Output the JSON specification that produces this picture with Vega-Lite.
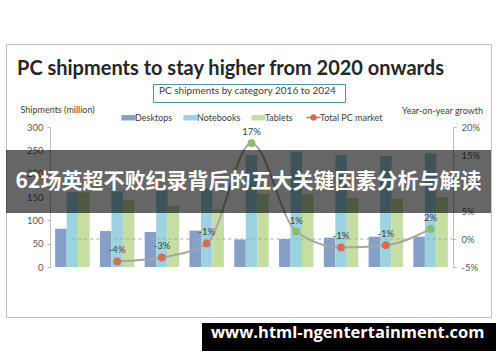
{
  "$schema": "https://vega.github.io/schema/vega-lite/v6.json",
  "width": 485,
  "height": 273,
  "autosize": {"type": "none"},
  "padding": {"left": 6, "top": 44, "right": 9, "bottom": 45},
  "background": "white",
  "config": {
    "view": {"stroke": "#bfbfbf", "strokeWidth": 1},
    "font": "Lato",
    "axis": {"labelFont": "Lato", "titleFont": "Lato", "labelColor": "#595959", "titleColor": "#404040", "grid": false, "domainColor": "#bfbfbf", "tickColor": "#bfbfbf", "labelFontSize": 9.5, "titleFontSize": 9, "titleFontWeight": "normal"},
    "legend": {"labelFont": "Lato", "titleFont": "Lato"}
  },
  "title": {
    "text": "PC shipments to stay higher from 2020 onwards",
    "anchor": "start",
    "frame": "group",
    "dx": 11,
    "offset": -35,
    "font": "Lato",
    "fontSize": 20,
    "fontWeight": "bold",
    "color": "#262626"
  },
  "datasets": {
    "shipments": [
      {"year": "2016", "category": "Desktops", "value": 82},
      {"year": "2016", "category": "Notebooks", "value": 160},
      {"year": "2016", "category": "Tablets", "value": 160},
      {"year": "2017", "category": "Desktops", "value": 77},
      {"year": "2017", "category": "Notebooks", "value": 162},
      {"year": "2017", "category": "Tablets", "value": 143},
      {"year": "2018", "category": "Desktops", "value": 75},
      {"year": "2018", "category": "Notebooks", "value": 164},
      {"year": "2018", "category": "Tablets", "value": 131},
      {"year": "2019", "category": "Desktops", "value": 78},
      {"year": "2019", "category": "Notebooks", "value": 168},
      {"year": "2019", "category": "Tablets", "value": 124},
      {"year": "2020", "category": "Desktops", "value": 59},
      {"year": "2020", "category": "Notebooks", "value": 240},
      {"year": "2020", "category": "Tablets", "value": 157},
      {"year": "2021", "category": "Desktops", "value": 60},
      {"year": "2021", "category": "Notebooks", "value": 247},
      {"year": "2021", "category": "Tablets", "value": 156},
      {"year": "2022", "category": "Desktops", "value": 63},
      {"year": "2022", "category": "Notebooks", "value": 240},
      {"year": "2022", "category": "Tablets", "value": 148},
      {"year": "2023", "category": "Desktops", "value": 65},
      {"year": "2023", "category": "Notebooks", "value": 238},
      {"year": "2023", "category": "Tablets", "value": 146},
      {"year": "2024", "category": "Desktops", "value": 65},
      {"year": "2024", "category": "Notebooks", "value": 244},
      {"year": "2024", "category": "Tablets", "value": 150}
    ],
    "growth": [
      {"year": "2017", "growth": -4.0, "label": "-4%", "trend": "neg"},
      {"year": "2018", "growth": -3.3, "label": "-3%", "trend": "neg"},
      {"year": "2019", "growth": -0.8, "label": "-1%", "trend": "neg"},
      {"year": "2020", "growth": 17.1, "label": "17%", "trend": "pos"},
      {"year": "2021", "growth": 1.3, "label": "1%", "trend": "pos"},
      {"year": "2022", "growth": -1.5, "label": "-1%", "trend": "neg"},
      {"year": "2023", "growth": -1.1, "label": "-1%", "trend": "neg"},
      {"year": "2024", "growth": 1.8, "label": "2%", "trend": "pos"}
    ],
    "overlay": [
      {"banner": "62场英超不败纪录背后的五大关键因素分析与解读"}
    ]
  },
  "layer": [
    {
      "data": {"name": "shipments"},
      "mark": {"type": "bar"},
      "encoding": {
        "x": {
          "field": "year", "type": "ordinal",
          "scale": {"range": [44, 447], "paddingInner": 0.23, "paddingOuter": 0.115},
          "axis": {
            "orient": "bottom", "offset": -50, "labelAngle": 0, "ticks": false, "labelPadding": 8,
            "title": "Source: Canalys estimates and forecasts, PC Analysis, November 2020",
            "titleX": 13, "titleY": 35, "titleAlign": "left", "titleAnchor": null, "titleBaseline": "middle",
            "titleFontSize": 7, "titleColor": "#a6a6a6"
          }
        },
        "xOffset": {"field": "category", "type": "nominal", "scale": {"paddingInner": 0, "paddingOuter": 0}},
        "y": {
          "field": "value", "type": "quantitative",
          "scale": {"domain": [0, 300], "range": [223, 83], "nice": false},
          "axis": {
            "orient": "left", "offset": -44, "values": [0, 50, 100, 150, 200, 250, 300], "tickSize": 3, "labelPadding": 4,
            "title": "Shipments (million)", "titleAngle": 0, "titleX": -30, "titleY": 65, "titleAlign": "left", "titleBaseline": "middle"
          }
        },
        "color": {
          "field": "category", "type": "nominal",
          "scale": {"domain": ["Desktops", "Notebooks", "Tablets", "Total PC market"], "range": ["#859fc7", "#9dd2e0", "#c6dea2", "#d0694f"]},
          "legend": {
            "orient": "none", "legendX": 118, "legendY": 69, "direction": "horizontal", "title": null,
            "symbolType": "M-1,-0.38H1V0.38H-1Z", "symbolSize": 200, "symbolStrokeWidth": 0,
            "labelFontSize": 9, "labelColor": "#404040", "columnPadding": 10, "labelOffset": 2,
            "encode": {
              "symbols": {
                "update": {
                  "shape": {"signal": "datum.value === 'Total PC market' ? 'M-1,0H1M-0.35,0A0.35,0.35,0,1,0,0.35,0A0.35,0.35,0,1,0,-0.35,0Z' : 'M-1,-0.38H1V0.38H-1Z'"},
                  "stroke": {"signal": "datum.value === 'Total PC market' ? '#d0694f' : null"},
                  "strokeWidth": {"signal": "datum.value === 'Total PC market' ? 1.5 : 0"}
                }
              }
            }
          }
        }
      }
    },
    {
      "layer": [
        {
          "data": {"name": "overlay"},
          "mark": {"type": "rule", "color": "#a6a6a6", "strokeWidth": 1},
          "encoding": {
            "x": {"datum": "2016", "type": "ordinal", "axis": null},
            "x2": {"datum": "2024", "bandPosition": 1.2},
            "y": {"datum": 0, "type": "quantitative"},
            "strokeDash": {
              "datum": "box", "type": "nominal",
              "scale": {"range": [[3, 3]]},
              "legend": {
                "orient": "none", "legendX": 147, "legendY": 40,
                "title": "PC shipments by category 2016 to 2024", "titleOrient": "left",
                "titleFontSize": 10, "titleFontWeight": "normal", "titleColor": "#404040", "titleLimit": 400, "titlePadding": 0,
                "strokeColor": "#4f9599", "padding": 6,
                "symbolSize": 0, "symbolOpacity": 0, "labelExpr": "''", "labelFontSize": 1, "labelOffset": 0
              }
            }
          }
        },
        {
          "data": {"name": "growth"},
          "mark": {"type": "line", "color": "#a6a6a6", "strokeWidth": 2, "interpolate": "monotone"},
          "encoding": {
            "x": {"field": "year", "type": "ordinal", "axis": null},
            "y": {"field": "growth", "type": "quantitative"}
          }
        },
        {
          "data": {"name": "growth"},
          "mark": {"type": "point", "filled": true, "size": 60, "opacity": 1},
          "encoding": {
            "x": {"field": "year", "type": "ordinal", "axis": null},
            "y": {"field": "growth", "type": "quantitative"},
            "fill": {"field": "trend", "type": "nominal", "scale": {"domain": ["neg", "pos"], "range": ["#d0704f", "#8fba6b"]}, "legend": null}
          }
        },
        {
          "data": {"name": "growth"},
          "mark": {"type": "text", "dy": -11, "fontSize": 9.5, "font": "Lato", "color": "#404040"},
          "encoding": {
            "x": {"field": "year", "type": "ordinal", "axis": null},
            "y": {"field": "growth", "type": "quantitative"},
            "text": {"field": "label"}
          }
        }
      ],
      "encoding": {
        "y": {
          "type": "quantitative",
          "scale": {"domain": [-5, 20], "range": [223, 83], "nice": false},
          "axis": {
            "orient": "right", "offset": -38, "values": [-5, 0, 5, 10, 15, 20], "labelExpr": "datum.value + '%'",
            "tickSize": 3, "labelPadding": 5,
            "title": "Year-on-year growth", "titleAngle": 0, "titleX": -11, "titleY": 66, "titleAlign": "center", "titleBaseline": "middle"
          }
        }
      }
    },
    {
      "data": {"name": "overlay"},
      "layer": [
        {
          "mark": {"type": "rect", "color": "#000000", "opacity": 0.6},
          "encoding": {
            "y": {"datum": 250.7, "type": "quantitative", "scale": {"domain": [0, 300], "range": [223, 83], "nice": false}, "axis": null},
            "y2": {"datum": 115.7}
          }
        },
        {
          "mark": {"type": "text", "font": "Noto Sans CJK SC", "fontSize": 21, "fontWeight": "bold", "baseline": "middle", "align": "center"},
          "encoding": {
            "y": {"datum": 182, "type": "quantitative", "axis": null},
            "text": {"field": "banner"},
            "fill": {
              "datum": "mark", "type": "nominal",
              "scale": {"range": ["#ffffff"]},
              "legend": {
                "orient": "none", "legendX": 196, "legendY": 279,
                "title": "www.html-ngentertainment.com", "titleOrient": "left",
                "titleFont": "Open Sans", "titleFontSize": 16.5, "titleFontWeight": "bold", "titleColor": "#ffffff", "titleLimit": 500, "titlePadding": 0,
                "fillColor": "#000000", "padding": 9,
                "symbolSize": 0, "symbolOpacity": 0, "labelExpr": "''", "labelFontSize": 1, "labelOffset": 0
              }
            }
          }
        }
      ]
    }
  ],
  "resolve": {"scale": {"y": "independent", "fill": "independent"}, "legend": {"fill": "independent"}}
}
